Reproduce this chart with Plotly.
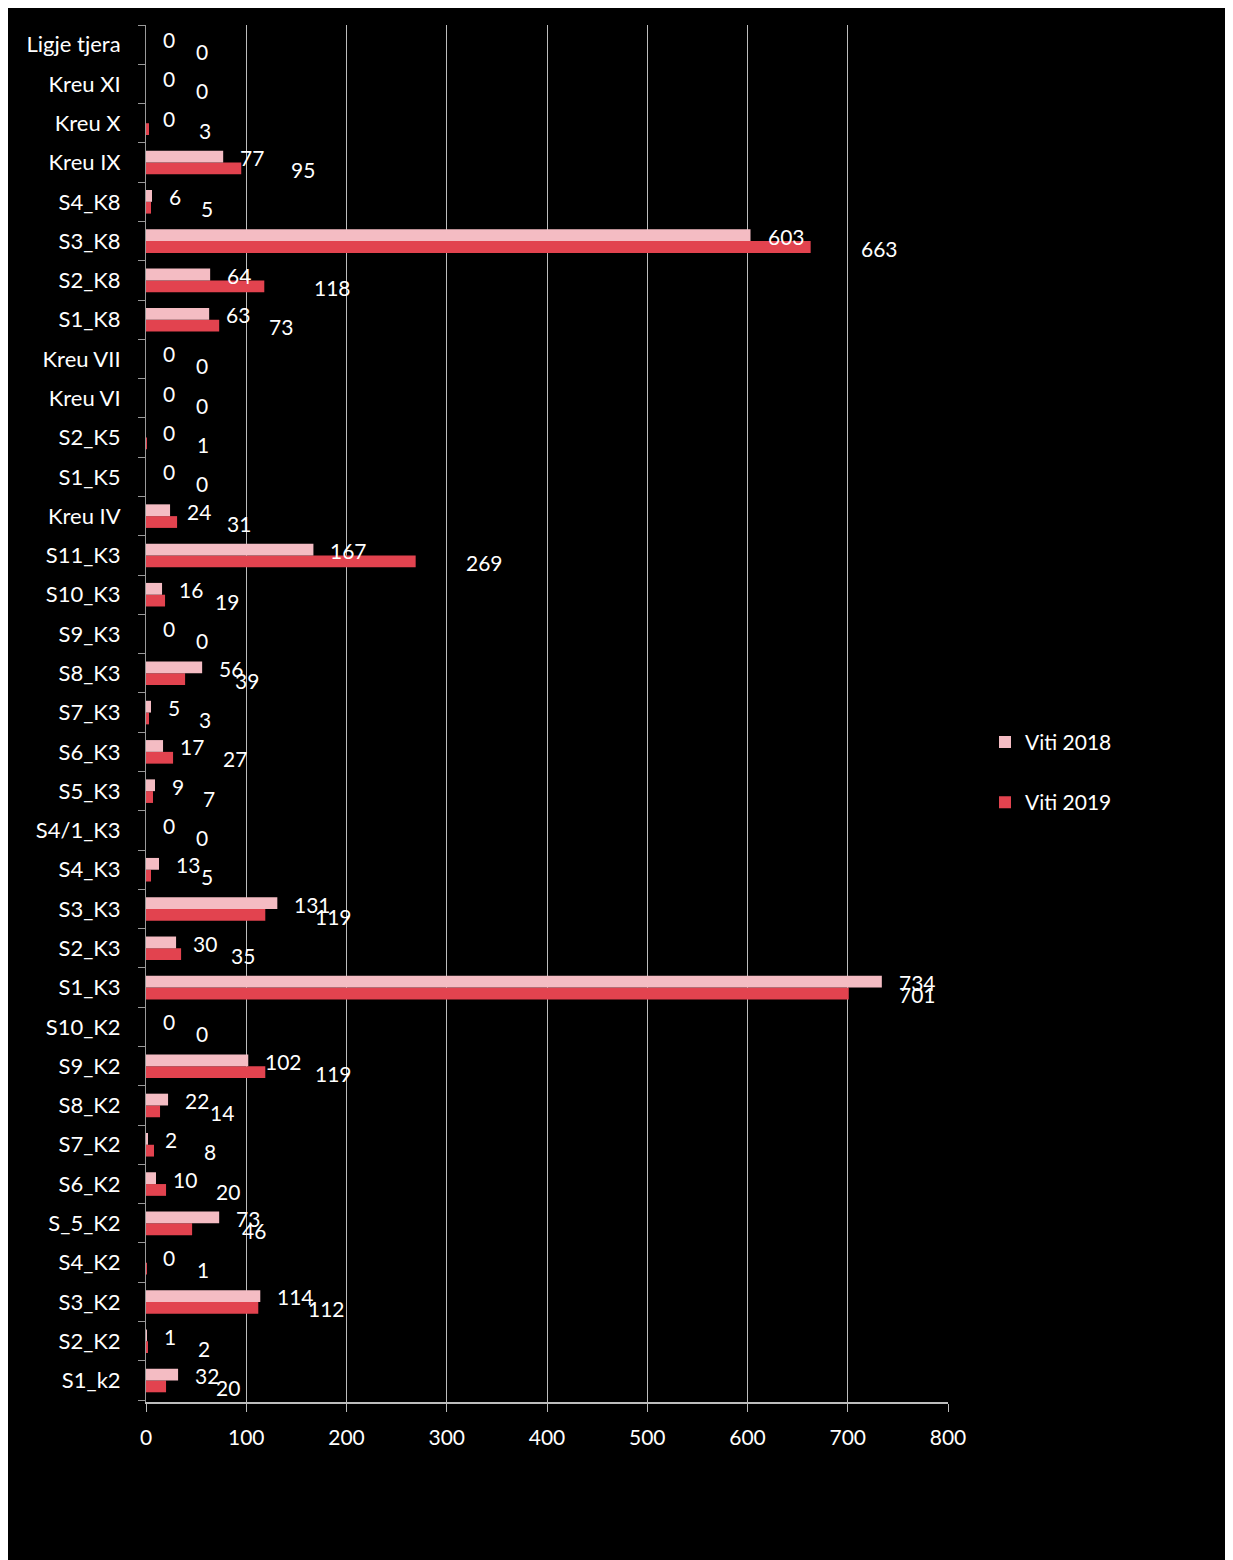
import plotly.graph_objects as go

categories = ["S1_k2", "S2_K2", "S3_K2", "S4_K2", "S_5_K2", "S6_K2", "S7_K2", "S8_K2",
              "S9_K2", "S10_K2", "S1_K3", "S2_K3", "S3_K3", "S4_K3", "S4/1_K3", "S5_K3",
              "S6_K3", "S7_K3", "S8_K3", "S9_K3", "S10_K3", "S11_K3", "Kreu IV", "S1_K5",
              "S2_K5", "Kreu VI", "Kreu VII", "S1_K8", "S2_K8", "S3_K8", "S4_K8", "Kreu IX",
              "Kreu X", "Kreu XI", "Ligje tjera"]
viti_2018 = [32, 1, 114, 0, 73, 10, 2, 22,
             102, 0, 734, 30, 131, 13, 0, 9,
             17, 5, 56, 0, 16, 167, 24, 0,
             0, 0, 0, 63, 64, 603, 6, 77,
             0, 0, 0]
viti_2019 = [20, 2, 112, 1, 46, 20, 8, 14,
             119, 0, 701, 35, 119, 5, 0, 7,
             27, 3, 39, 0, 19, 269, 31, 0,
             1, 0, 0, 73, 118, 663, 5, 95,
             3, 0, 0]
x_ticks = [0, 100, 200, 300, 400, 500, 600, 700, 800]

FONT = "Lato"
fig = go.Figure()
fig.add_trace(go.Bar(
    y=categories, x=viti_2019, orientation="h", name="Viti 2019",
    legendgroup="b", legendrank=2,
    marker=dict(color="#e2434f", line=dict(width=0)),
))
fig.add_trace(go.Bar(
    y=categories, x=viti_2018, orientation="h", name="Viti 2018",
    legendgroup="a", legendrank=1,
    marker=dict(color="#f4bcc3", line=dict(width=0)),
))

# data labels, offset like the original spreadsheet chart
for cat, v in zip(categories, viti_2018):
    fig.add_annotation(x=v, y=cat, xref="x", yref="y", text=str(v), showarrow=False,
                       xanchor="left", yanchor="middle", xshift=15, yshift=5,
                       font=dict(size=21, color="white", family=FONT))
for cat, v in zip(categories, viti_2019):
    fig.add_annotation(x=v, y=cat, xref="x", yref="y", text=str(v), showarrow=False,
                       xanchor="left", yanchor="middle", xshift=48, yshift=-7,
                       font=dict(size=21, color="white", family=FONT))

# page body adds an 8px white margin (acts as the scan's white border)
W, H = 1225, 1552
L, R, T, B = 138, 940, 16.5, 1394
fig.update_layout(
    width=W, height=H,
    margin=dict(l=L, r=W - R, t=T, b=H - B, autoexpand=False),
    paper_bgcolor="black", plot_bgcolor="black",
    barmode="group", bargap=0.4, bargroupgap=0.0,
    font=dict(family=FONT, color="white", size=20),
    showlegend=True,
    legend=dict(x=(977 - L) / (R - L), y=(B - 764) / (B - T), xanchor="left", yanchor="middle",
                traceorder="grouped", tracegroupgap=30,
                font=dict(size=21, color="white", family=FONT), bgcolor="rgba(0,0,0,0)",
                itemwidth=30),
    xaxis=dict(range=[0, 800], tickvals=x_ticks, showgrid=True, gridcolor="#bdbdbd", gridwidth=1,
               showline=True, linecolor="#bdbdbd", linewidth=2, ticks="outside", ticklen=8,
               tickcolor="#bdbdbd", zeroline=False, tickfont=dict(size=21, color="white"),
               ticklabelstandoff=8, fixedrange=True),
    yaxis=dict(type="category", categoryorder="array", categoryarray=categories,
               showline=True, linecolor="#9a9a9a", linewidth=1, ticks="outside",
               tickson="boundaries", ticklen=7, tickcolor="#9a9a9a", showgrid=False,
               tickfont=dict(size=22, color="white"), ticklabelstandoff=20),
)

fig.write_html("out.html")
